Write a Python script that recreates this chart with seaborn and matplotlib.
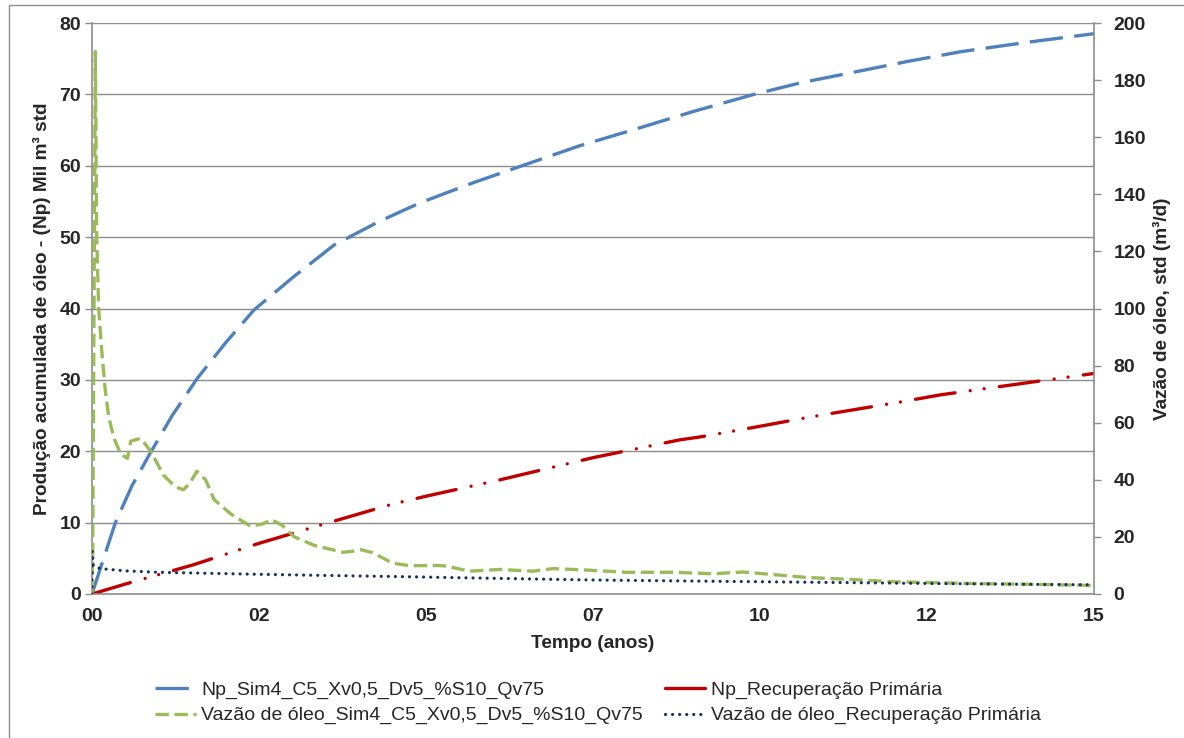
import matplotlib
matplotlib.use("Agg")
import matplotlib.pyplot as plt
import seaborn as sns
from matplotlib.patches import Rectangle
from matplotlib.lines import Line2D

# Cumulative oil production, Mil m³ std (left axis)
t_np_sim = [0, 0.175, 0.35, 0.6, 0.875, 1.2, 1.575, 2.0, 2.425, 3.025, 3.625,
            4.3, 4.91, 5.7, 6.53, 7.3, 8.16, 9.0, 9.91, 10.6, 11.4, 12.2,
            13.02, 14.0, 15.0]
np_sim = [0, 5.0, 10.0, 15.2, 19.8, 25.0, 30.2, 35.2, 39.8, 44.5, 48.9,
          52.2, 54.8, 57.6, 60.3, 62.8, 65.2, 67.6, 70.0, 71.6, 73.1, 74.6,
          76.0, 77.3, 78.5]

t_np_prim = [0, 0.52, 1.52, 2.5, 3.51, 4.5, 5.0, 6.11, 7.5, 8.8, 9.1, 10.0,
             10.75, 12.1, 12.7, 15.0]
np_prim = [0, 1.45, 4.1, 7.1, 9.9, 12.6, 13.7, 16.0, 19.1, 21.6, 22.0, 23.5,
           24.8, 26.9, 27.9, 30.9]

# Oil rate, m³/d (right axis)
t_q_sim = [0, 0.01, 0.05, 0.07, 0.1, 0.15, 0.2, 0.25, 0.33, 0.43, 0.53, 0.58,
           0.65, 0.72, 0.78, 0.88, 1.07, 1.25, 1.37, 1.47, 1.57, 1.7, 1.83,
           2.08, 2.37, 2.55, 2.69, 2.85, 3.03, 3.33, 3.76, 3.9, 4.03, 4.2,
           4.5, 4.76, 5.16, 5.3, 5.65, 6.1, 6.6, 6.9, 7.4, 8.0, 8.7, 9.3,
           9.75, 10.15, 10.7, 11.35, 12.0, 12.7, 13.4, 14.05, 15.0]
q_sim = [0, 12, 190, 125, 100, 84, 71, 62, 54.5, 49, 47.5, 53.5,
         54.0, 54.5, 53, 50, 41.6, 37.5, 36.5, 39, 43, 40, 33,
         28, 23.8, 24.5, 26, 24, 20, 17, 14.6, 15.0, 15.5, 14.5,
         10.8, 9.9, 10, 9.8, 8.0, 8.6, 8.0, 8.9, 8.4, 7.6, 7.6, 7.1,
         7.7, 6.9, 5.8, 5.1, 4.3, 3.9, 3.6, 3.4, 3.0]

t_q_prim = [0, 0.004, 0.02, 0.12, 0.5, 1.0, 2.5, 4.0, 4.6, 5.5, 7.5, 10.0,
            12.5, 15.0]
q_prim = [0, 15, 10, 8.9, 8.1, 7.6, 6.9, 6.3, 6.1, 5.7, 4.9, 4.3, 3.7, 3.2]

x_ticks = [0, 2.5, 5, 7.5, 10, 12.5, 15]
x_tick_labels = ["00", "02", "05", "07", "10", "12", "15"]

lbl_np_sim = "Np_Sim4_C5_Xv0,5_Dv5_%S10_Qv75"
lbl_np_prim = "Np_Recuperação Primária"
lbl_q_sim = "Vazão de óleo_Sim4_C5_Xv0,5_Dv5_%S10_Qv75"
lbl_q_prim = "Vazão de óleo_Recuperação Primária"

c_blue = "#4F81BD"
c_red = "#C00000"
c_green = "#9BBB59"
c_navy = "#17305E"
c_grid = "#8C8C8C"

sns.set_theme(style="white")
plt.rcParams["font.family"] = ["Liberation Sans", "DejaVu Sans"]

W, H = 1184, 738
fig = plt.figure(figsize=(W / 100, H / 100), dpi=100)
ax = fig.add_axes([92 / W, 1 - 594 / H, (1094 - 92) / W, (594 - 23) / H])
ax2 = ax.twinx()

sty_blue = dict(color=c_blue, linewidth=2.4, linestyle=(0, (10.0, 3.4)))
sty_red = dict(color=c_red, linewidth=2.4, dash_capstyle="round",
               linestyle=(0, (12.0, 4.6, 0.01, 4.2, 0.01, 4.6)))
sty_green = dict(color=c_green, linewidth=2.4, linestyle=(0, (4.0, 1.7)))
sty_navy = dict(color=c_navy, linewidth=2.3, dash_capstyle="round",
                linestyle=(0, (0.01, 2.2)))

sns.lineplot(x=t_np_sim, y=np_sim, ax=ax, estimator=None, sort=False,
             **sty_blue)
sns.lineplot(x=t_np_prim, y=np_prim, ax=ax, estimator=None, sort=False,
             **sty_red)
sns.lineplot(x=t_q_sim, y=q_sim, ax=ax2, estimator=None, sort=False,
             **sty_green)
sns.lineplot(x=t_q_prim, y=q_prim, ax=ax2, estimator=None, sort=False,
             **sty_navy)

ax.set_xlim(0, 15)
ax.set_ylim(0, 80)
ax2.set_ylim(0, 200)
ax.set_yticks(range(0, 81, 10))
ax2.set_yticks(range(0, 201, 20))
ax.set_xticks(x_ticks)
ax.set_xticklabels(x_tick_labels)

ax.yaxis.grid(True, color=c_grid, linewidth=1.0)
ax.xaxis.grid(False)
ax2.grid(False)
ax.set_axisbelow(True)

for a in (ax, ax2):
    for s in a.spines.values():
        s.set_visible(False)
ax.spines["left"].set_visible(True)
ax.spines["bottom"].set_visible(True)
ax2.spines["right"].set_visible(True)
for s in (ax.spines["left"], ax.spines["bottom"], ax2.spines["right"]):
    s.set_color(c_grid)
    s.set_linewidth(1.2)

ax.tick_params(axis="both", which="major", direction="out", length=5,
               width=1, color=c_grid, pad=3, labelsize=14)
ax.tick_params(axis="x", pad=5)
ax2.tick_params(axis="y", direction="out", length=5, width=1, color=c_grid,
                pad=9, labelsize=14)
for lab in ax.get_xticklabels() + ax.get_yticklabels() + ax2.get_yticklabels():
    lab.set_fontweight("bold")

ax.set_xlabel("Tempo (anos)", fontsize=13.7, fontweight="bold", labelpad=7)
ax.set_ylabel("Produção acumulada de óleo - (Np) Mil m³ std", fontsize=13.7,
              fontweight="bold", labelpad=6)
ax2.set_ylabel("Vazão de óleo, std (m³/d)", fontsize=13.7, fontweight="bold",
               labelpad=5)

handles = [
    Line2D([], [], **sty_blue),
    Line2D([], [], **sty_green),
    Line2D([], [], **sty_red),
    Line2D([], [], **sty_navy),
]
labels = [lbl_np_sim, lbl_q_sim, lbl_np_prim, lbl_q_prim]
fig.legend(handles, labels, ncol=2, loc="center", frameon=False,
           bbox_to_anchor=(598 / W, 1 - 703 / H), fontsize=14,
           handlelength=2.1, handletextpad=0.3, columnspacing=1.1,
           labelspacing=0.38)

# outer chart-area border
fig.add_artist(Rectangle((9 / W, -0.05), 1.2, 1 - 5 / H + 0.05,
                         transform=fig.transFigure, fill=False,
                         edgecolor="#8C8C8C", linewidth=1.0))

fig.savefig("out.png", dpi=100, facecolor="white")
